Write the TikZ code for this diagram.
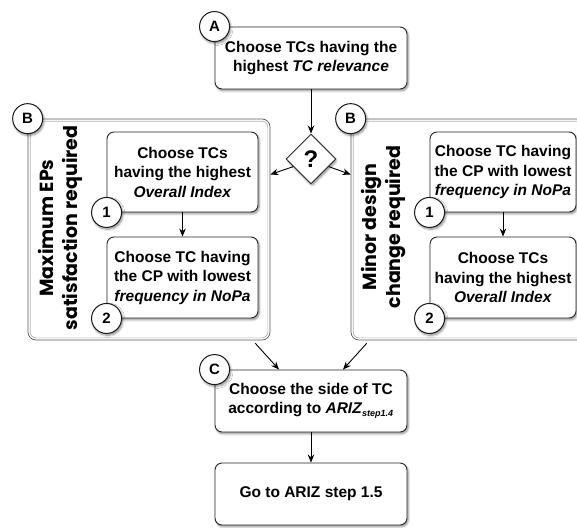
\documentclass[tikz,border=0pt]{standalone}
\usepackage{fontspec}
\setmainfont{Liberation Sans}
\newfontfamily\geofont{Poppins}
\usetikzlibrary{shapes.geometric,arrows.meta,calc,shadows.blur}
\tikzset{
  shad/.style={blur shadow={shadow xshift=1.2pt,shadow yshift=-1.8pt,shadow blur steps=6,shadow blur extra rounding=1.5pt,shadow opacity=45}},
  box/.style={draw=black!85,line width=0.9pt,fill=white,rounded corners=7pt,shad,align=center,inner sep=0pt,
    font=\fontsize{15.5}{19.5}\selectfont\bfseries},
  tag/.style={circle,draw=black!90,line width=1pt,fill=white,minimum size=30pt,inner sep=0pt,shad,
    font=\fontsize{15}{15}\selectfont\bfseries},
  container/.style={draw=black!65,line width=0.7pt,rounded corners=8pt,inner sep=0pt},
  innerline/.style={draw=black!30,line width=0.7pt,rounded corners=6pt},
  rottext/.style={rotate=90,align=center,inner sep=0pt,font=\geofont\fontsize{19}{24}\selectfont\bfseries},
  arr/.style={draw=black,line width=0.9pt,-{Stealth[length=8pt,width=6.5pt]}},
  ask/.style={diamond,draw=black!85,line width=0.9pt,fill=white,minimum width=50pt,minimum height=50pt,inner sep=0pt,shad,
    font=\fontsize{24}{24}\selectfont\bfseries}
}
\begin{document}
\begin{tikzpicture}[x=1pt,y=-1pt]
\useasboundingbox (0,0) rectangle (577,527);
\clip (0,0) rectangle (577,527);
% containers
\node[container,minimum width=242pt,minimum height=221pt] (lcont) at (149,229.5) {};
\draw[innerline] ([shift={(2.5pt,-2.5pt)}]lcont.north west) rectangle ([shift={(-2.5pt,2.5pt)}]lcont.south east);
\node[container,minimum width=269pt,minimum height=221pt] (rcont) at (485.5,229.5) {};
\draw[innerline] ([shift={(2.5pt,-2.5pt)}]rcont.north west) rectangle ([shift={(-2.5pt,2.5pt)}]rcont.south east);
\node[rottext] (ltxt) at (60,228) {Maximum EPs\\satisfaction required};
\node[rottext] (rtxt) at (383,227) {Minor design\\change required};
% main boxes
\node[box,minimum width=192pt,minimum height=62pt] (A) at (311,58) {Choose TCs having the\\highest \textit{TC relevance}};
\node[ask] (q) at (311,159) {?};
\node[box,minimum width=151pt,minimum height=80pt] (L1) at (182.5,172) {Choose TCs\\having the highest\\\textit{Overall Index}};
\node[box,minimum width=151pt,minimum height=81pt] (L2) at (182.5,277.5) {Choose TC having\\the CP with lowest\\\textit{frequency in NoPa}};
\node[box,minimum width=146pt,minimum height=80pt] (R1) at (503,172) {Choose TC having\\the CP with lowest\\\textit{frequency in NoPa}};
\node[box,minimum width=146pt,minimum height=81pt] (R2) at (503,277.5) {Choose TCs\\having the highest\\\textit{Overall Index}};
\node[box,minimum width=192pt,minimum height=62pt] (C) at (311,401) {Choose the side of TC\\according to \textit{ARIZ}{\fontsize{9}{9}\selectfont$_{\textit{\textbf{step1.4}}}$}};
\node[box,minimum width=192pt,minimum height=62pt] (G) at (311,494) {Go to ARIZ step 1.5};
% tags
\node[tag] (tA) at (A.north west) {A};
\node[tag] (tB1) at (lcont.north west) {B};
\node[tag] (tB2) at (rcont.north west) {B};
\node[tag] (tL1) at (L1.south west) {1};
\node[tag] (tL2) at (L2.south west) {2};
\node[tag] (tR1) at (R1.south west) {1};
\node[tag] (tR2) at (R2.south west) {2};
\node[tag] (tC) at (C.north west) {C};
% connectors
\draw[arr] (A.south) -- (q.north);
\draw[arr] ($(q.west)!0.3!(q.south)$) -- ([yshift=55pt]lcont.east);
\draw[arr] ($(q.east)!0.3!(q.south)$) -- ([yshift=55pt]rcont.west);
\draw[arr] (L1.south) -- (L2.north);
\draw[arr] (R1.south) -- (R2.north);
\draw[arr] ([shift={(-15pt,-3pt)}]lcont.south east) -- ([xshift=-32pt]C.north);
\draw[arr] ([shift={(16pt,-3pt)}]rcont.south west) -- ([xshift=32pt]C.north);
\draw[arr] (C.south) -- (G.north);
\end{tikzpicture}
\end{document}
